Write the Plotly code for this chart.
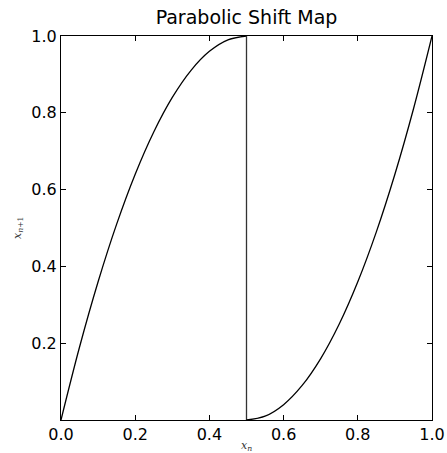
import plotly.graph_objects as go

# Parabolic shift map: rising branch on [0, 0.5], then a drop and a second branch on [0.5, 1]
x_left = [0.00, 0.05, 0.10, 0.15, 0.20, 0.25, 0.30, 0.35, 0.40, 0.45, 0.50]
y_left = [0.00, 0.19, 0.36, 0.51, 0.64, 0.75, 0.84, 0.91, 0.96, 0.99, 1.00]
x_right = [0.50, 0.55, 0.60, 0.65, 0.70, 0.75, 0.80, 0.85, 0.90, 0.95, 1.00]
y_right = [0.00, 0.01, 0.04, 0.09, 0.16, 0.25, 0.36, 0.49, 0.64, 0.81, 1.00]

x_ticks = [0.0, 0.2, 0.4, 0.6, 0.8, 1.0]
y_ticks = [0.2, 0.4, 0.6, 0.8, 1.0]

FONT = "DejaVu Sans"
LINE = dict(color="black", width=1.3)

fig = go.Figure()
# smooth branches
fig.add_trace(go.Scatter(x=x_left, y=y_left, mode="lines", line=dict(shape="spline", smoothing=1, **LINE),
                         hoverinfo="skip", showlegend=False))
# drop from the end of the left branch to the start of the right branch
fig.add_trace(go.Scatter(x=[x_left[-1], x_right[0]], y=[y_left[-1], y_right[0]], mode="lines",
                         line=dict(color="#333", width=1.3), hoverinfo="skip", showlegend=False))
fig.add_trace(go.Scatter(x=x_right, y=y_right, mode="lines", line=dict(shape="spline", smoothing=1, **LINE),
                         hoverinfo="skip", showlegend=False))

axis_common = dict(
    showgrid=False, zeroline=False, automargin=False,
    showline=True, linecolor="black", linewidth=1,
    mirror="allticks", ticks="inside", ticklen=5, tickwidth=1, tickcolor="black",
    tickfont=dict(family=FONT, size=16, color="black"),
)

fig.update_layout(
    width=447, height=453,
    margin=dict(l=61, r=15, t=36, b=33),
    paper_bgcolor="white", plot_bgcolor="white",
    xaxis=dict(range=[0, 1], tickvals=x_ticks, ticktext=[f"{v:.1f}" for v in x_ticks], **axis_common),
    yaxis=dict(range=[0, 1], tickvals=y_ticks, ticktext=[f"{v:.1f}" for v in y_ticks], **axis_common),
    title=dict(text="Parabolic Shift Map", x=0.5515, xanchor="center", y=0.962, yanchor="middle",
               font=dict(family=FONT, size=19, color="black")),
    annotations=[
        dict(text="<i>x</i><sub><i>n</i></sub>", xref="paper", yref="paper", x=0.5, y=0, yshift=-26,
             xanchor="center", yanchor="middle", showarrow=False,
             font=dict(family="DejaVu Serif", size=11, color="#333")),
        dict(text="<i>x</i><sub><i>n</i>+1</sub>", xref="paper", yref="paper", x=0, y=0.5, xshift=-43,
             xanchor="center", yanchor="middle", showarrow=False, textangle=-90,
             font=dict(family="DejaVu Serif", size=11, color="#333")),
    ],
)

fig.write_html("out.html")
